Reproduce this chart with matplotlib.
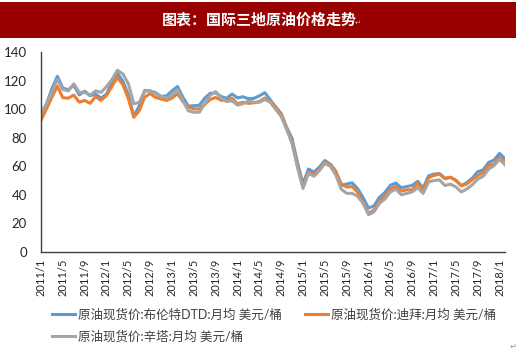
import matplotlib
matplotlib.use("Agg")
import matplotlib.pyplot as plt
from matplotlib.patches import Rectangle

plt.rcParams['font.family'] = ['Lato', 'Noto Sans CJK SC', 'DejaVu Sans']

# ---- data (monthly averages, USD/bbl) ----
months = [f"{y}/{m}" for y in range(2011, 2019) for m in range(1, 13)][:86]

brent = [96.5, 103.7, 114.6, 123.3, 115.0, 113.8, 117.0, 110.2, 112.8, 109.6, 110.8, 107.9,
         110.7, 119.3, 125.5, 119.8, 110.3, 95.2, 102.6, 113.4, 112.9, 111.7, 109.1, 109.5,
         113.0, 116.1, 108.5, 102.3, 102.6, 102.9, 107.9, 111.3, 111.6, 109.1, 107.8, 110.8,
         108.1, 108.9, 107.5, 107.8, 109.5, 111.8, 106.8, 101.6, 97.1, 87.4, 79.4, 62.3,
         47.8, 58.1, 55.9, 59.5, 64.1, 61.5, 56.6, 46.5, 47.6, 48.4, 44.3, 38.0,
         30.7, 32.2, 38.2, 41.6, 46.7, 48.3, 45.0, 45.8, 46.6, 49.5, 44.7, 53.3,
         54.6, 54.9, 51.6, 52.3, 50.3, 46.4, 48.5, 51.7, 56.2, 57.5, 62.7, 64.4,
         69.1, 65.3]

dubai = [92.3, 100.3, 108.7, 116.3, 108.2, 107.9, 110.1, 105.1, 106.3, 104.3, 109.0, 106.3,
         109.8, 116.2, 122.5, 117.3, 107.6, 94.4, 99.1, 108.6, 111.1, 108.4, 107.3, 106.3,
         107.9, 111.1, 105.5, 101.7, 100.4, 100.3, 103.5, 107.0, 108.4, 106.4, 106.5, 107.8,
         104.0, 105.0, 104.3, 104.6, 105.6, 108.0, 105.6, 101.7, 96.5, 86.7, 76.4, 60.3,
         45.6, 55.8, 54.7, 57.6, 62.9, 61.3, 56.1, 47.8, 45.4, 45.8, 41.8, 34.6,
         26.9, 29.4, 35.2, 39.1, 44.1, 46.0, 42.6, 43.5, 43.5, 48.2, 43.2, 52.0,
         53.6, 54.5, 51.3, 52.3, 50.0, 46.3, 47.6, 50.6, 53.5, 55.6, 60.7, 61.5,
         66.2, 62.7]

cinta = [97.0, 104.0, 112.0, 121.0, 114.0, 113.0, 118.0, 112.0, 112.0, 110.0, 113.0, 112.0,
         116.0, 121.0, 127.5, 125.0, 118.0, 104.0, 105.0, 113.0, 113.0, 111.0, 109.0, 108.0,
         110.0, 114.0, 106.0, 99.0, 98.0, 98.0, 104.0, 110.0, 112.5, 108.0, 105.5, 106.0,
         103.0, 104.0, 106.0, 105.0, 105.0, 107.0, 105.0, 100.0, 95.0, 86.0, 76.0, 59.0,
         44.5, 55.0, 53.0, 57.0, 62.0, 60.0, 54.0, 44.0, 41.0, 41.0, 39.0, 34.0,
         26.0, 28.0, 34.0, 37.0, 42.0, 44.0, 40.0, 41.0, 42.0, 45.0, 41.0, 49.0,
         50.0, 50.5, 46.5, 47.5, 45.5, 42.0, 44.0, 47.0, 51.0, 53.0, 58.0, 60.5,
         65.0, 61.0]

labels = ["原油现货价:布伦特DTD:月均 美元/桶",
          "原油现货价:迪拜:月均 美元/桶",
          "原油现货价:辛塔:月均 美元/桶"]
colors = ["#5B9BD5", "#ED7D31", "#A5A5A5"]

W, H = 520, 355
fig = plt.figure(figsize=(W / 100, H / 100), dpi=100)
fig.patch.set_facecolor("white")

# title bar
fig.patches.append(Rectangle((0, 1 - 38 / H), 516 / W, 36 / H, transform=fig.transFigure,
                             facecolor="#990000", edgecolor="none", zorder=0))
fig.text(259 / W, 1 - 20 / H, "图表：国际三地原油价格走势", color="white", fontsize=10.8,
         fontweight="bold", ha="center", va="center",
         family=['Noto Sans CJK SC', 'DejaVu Sans'])
fig.text(358 / W, 1 - 23 / H, "↵", color="#BBBBBB", fontsize=5, ha="center", va="center",
         family=['DejaVu Sans'])

ax = fig.add_axes([41 / W, 1 - 251.7 / H, (505 - 41) / W, (251.7 - 52.5) / H])
x = list(range(len(months)))
series = [brent, dubai, cinta]
for vals, c, lab in zip(series, colors, labels):
    ax.plot(x, vals, color=c, linewidth=2.2, label=lab, solid_joinstyle="round")

ax.set_xlim(0, len(months) - 1)
ax.set_ylim(0, 140)
ax.set_yticks(range(0, 141, 20))
ax.set_xticks(x[::4])
ax.set_xticklabels(months[::4], rotation=90, fontsize=8, color="#262626")
ax.tick_params(axis="y", length=0, pad=10, labelsize=9.5, labelcolor="#262626")
ax.tick_params(axis="x", length=0, pad=5)
for s in ["top", "right"]:
    ax.spines[s].set_visible(False)
for s in ["left", "bottom"]:
    ax.spines[s].set_color("#404040")
    ax.spines[s].set_linewidth(1.0)

h, l = ax.get_legend_handles_labels()
order = [0, 2, 1]
leg = fig.legend([h[i] for i in order], [l[i] for i in order], ncol=2,
                 loc="upper left", bbox_to_anchor=(52 / W, 1 - 308 / H),
                 frameon=False, borderpad=0, borderaxespad=0, handlelength=1.85,
                 handletextpad=0.2, labelspacing=0.75, columnspacing=1.9,
                 prop={'family': ['Lato', 'Noto Sans CJK SC'], 'size': 9})
for t in leg.get_texts():
    t.set_color("#404040")

fig.text(513 / W, 1 - 346 / H, "↵", color="#999999", fontsize=6, ha="center", va="center",
         family=['DejaVu Sans'])

fig.savefig("out.png", dpi=100)
